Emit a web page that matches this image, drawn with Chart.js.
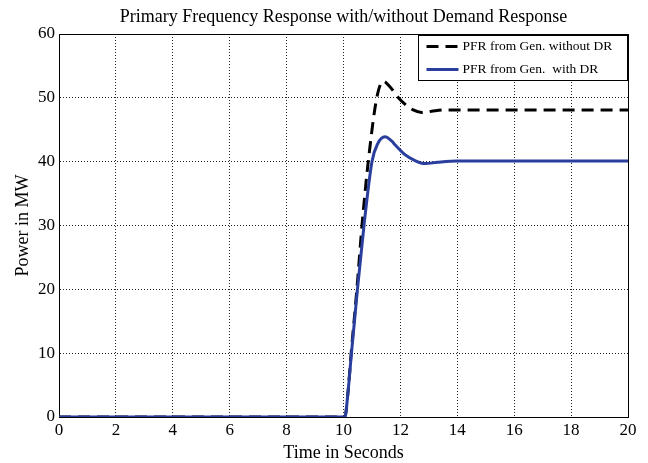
<!DOCTYPE html>
<html>
<head>
<meta charset="utf-8">
<script src="https://cdn.jsdelivr.net/npm/chart.js@4/dist/chart.umd.min.js"></script>
<style>
html,body{margin:0;padding:0;background:#fff;}
#c{display:block;}
</style>
</head>
<body>
<canvas id="c" width="648" height="463"></canvas>
<script>
// ---- data ----
const chartTitle = 'Primary Frequency Response with/without Demand Response';
const xAxisTitle = 'Time in Seconds';
const yAxisTitle = 'Power in MW';
const xTicks = [0, 2, 4, 6, 8, 10, 12, 14, 16, 18, 20];
const yTicks = [0, 10, 20, 30, 40, 50, 60];

const seriesNames = ['PFR from Gen. without DR', 'PFR from Gen.  with DR'];

const timeWithout  = [0, 10.0, 10.05, 10.15, 10.27, 10.47, 10.65, 10.87, 11.17, 11.4, 11.6, 11.93, 12.16, 12.45, 12.75, 13.1, 13.5, 14, 16, 18, 20];
const powerWithout = [0, 0, 0, 3.5, 10, 20, 30, 40, 50, 52.6, 51.9, 50, 49.0, 48.1, 47.7, 47.9, 48.1, 48.1, 48.1, 48.1, 48.1];

const timeWith  = [0, 10.0, 10.05, 10.15, 10.28, 10.49, 10.72, 11.0, 11.2, 11.46, 11.7, 11.82, 12.16, 12.5, 12.87, 13.3, 14, 16, 18, 20];
const powerWith = [0, 0, 0, 3.5, 10, 20, 30, 40, 42.8, 43.9, 43.2, 42.6, 41.1, 40.2, 39.7, 39.9, 40.1, 40.1, 40.1, 40.1];

// ---- chart ----
const FONT = "'Liberation Serif', 'DejaVu Serif', serif";
const BLUE = 'rgb(42,62,158)';

const toPts = (xs, ys) => xs.map((x, i) => ({x: x, y: ys[i]}));

const frameAndLegend = {
  id: 'frameAndLegend',
  afterDraw(chart) {
    const ctx = chart.ctx;
    const a = chart.chartArea;
    ctx.save();
    // top & right frame lines
    ctx.strokeStyle = '#000';
    ctx.lineWidth = 1;
    ctx.beginPath();
    ctx.moveTo(a.left, a.top + 0.5);
    ctx.lineTo(a.right + 0.5, a.top + 0.5);
    ctx.lineTo(a.right + 0.5, a.bottom);
    ctx.stroke();
    // legend box
    const bx = 418.5, by = 35.5, bw = 209, bh = 45;
    ctx.fillStyle = '#fff';
    ctx.fillRect(bx, by, bw, bh);
    ctx.strokeRect(bx, by, bw, bh);
    ctx.font = "13.5px " + FONT;
    ctx.textBaseline = 'middle';
    ctx.textAlign = 'left';
    chart.data.datasets.forEach((ds, i) => {
      const y = by + 11 + i * 23;
      ctx.save();
      ctx.strokeStyle = ds.borderColor;
      ctx.lineWidth = ds.borderWidth;
      ctx.setLineDash(ds.borderDash || []);
      ctx.beginPath();
      ctx.moveTo(bx + 8, y);
      ctx.lineTo(bx + 40, y);
      ctx.stroke();
      ctx.restore();
      ctx.fillStyle = '#000';
      ctx.fillText(ds.label, bx + 44, y);
    });
    ctx.restore();
  }
};

new Chart(document.getElementById('c'), {
  type: 'line',
  data: {
    datasets: [
      {
        label: seriesNames[0],
        data: toPts(timeWithout, powerWithout),
        borderColor: '#000',
        borderWidth: 3,
        borderDash: [12, 7],
        pointRadius: 0,
        fill: false,
        cubicInterpolationMode: 'monotone',
        order: 2
      },
      {
        label: seriesNames[1],
        data: toPts(timeWith, powerWith),
        borderColor: BLUE,
        borderWidth: 3,
        pointRadius: 0,
        fill: false,
        cubicInterpolationMode: 'monotone',
        order: 1
      }
    ]
  },
  options: {
    responsive: false,
    animation: false,
    layout: {padding: {top: 0, right: 20, bottom: 0, left: 0}},
    plugins: {
      legend: {display: false},
      tooltip: {enabled: false},
      title: {
        display: true,
        fullSize: false,
        text: chartTitle,
        color: '#000',
        font: {family: FONT, size: 18, weight: 'normal', lineHeight: 1.2},
        padding: {top: 6, bottom: 6.4}
      }
    },
    scales: {
      x: {
        type: 'linear',
        min: 0, max: 20,
        afterBuildTicks(scale) { scale.ticks = xTicks.map(v => ({value: v})); },
        afterFit(scale) { scale.height = 46; },
        ticks: {color: '#000', padding: 3, maxRotation: 0, font: {family: FONT, size: 17}},
        grid: {color: '#222', lineWidth: 1, drawTicks: false},
        border: {display: true, color: '#000', width: 1, dash: [1, 2]},
        title: {display: true, text: xAxisTitle, color: '#000', font: {family: FONT, size: 18, lineHeight: 1.1}, padding: {top: 0, bottom: 0}}
      },
      y: {
        type: 'linear',
        min: 0, max: 60,
        afterBuildTicks(scale) { scale.ticks = yTicks.map(v => ({value: v})); },
        afterFit(scale) { scale.width = 59; },
        ticks: {color: '#000', padding: 4, font: {family: FONT, size: 17}},
        grid: {color: '#222', lineWidth: 1, drawTicks: false},
        border: {display: true, color: '#000', width: 1, dash: [1, 2]},
        title: {display: true, text: yAxisTitle, color: '#000', font: {family: FONT, size: 18}, padding: {top: 12, bottom: 0}}
      }
    }
  },
  plugins: [frameAndLegend]
});
</script>
</body>
</html>
